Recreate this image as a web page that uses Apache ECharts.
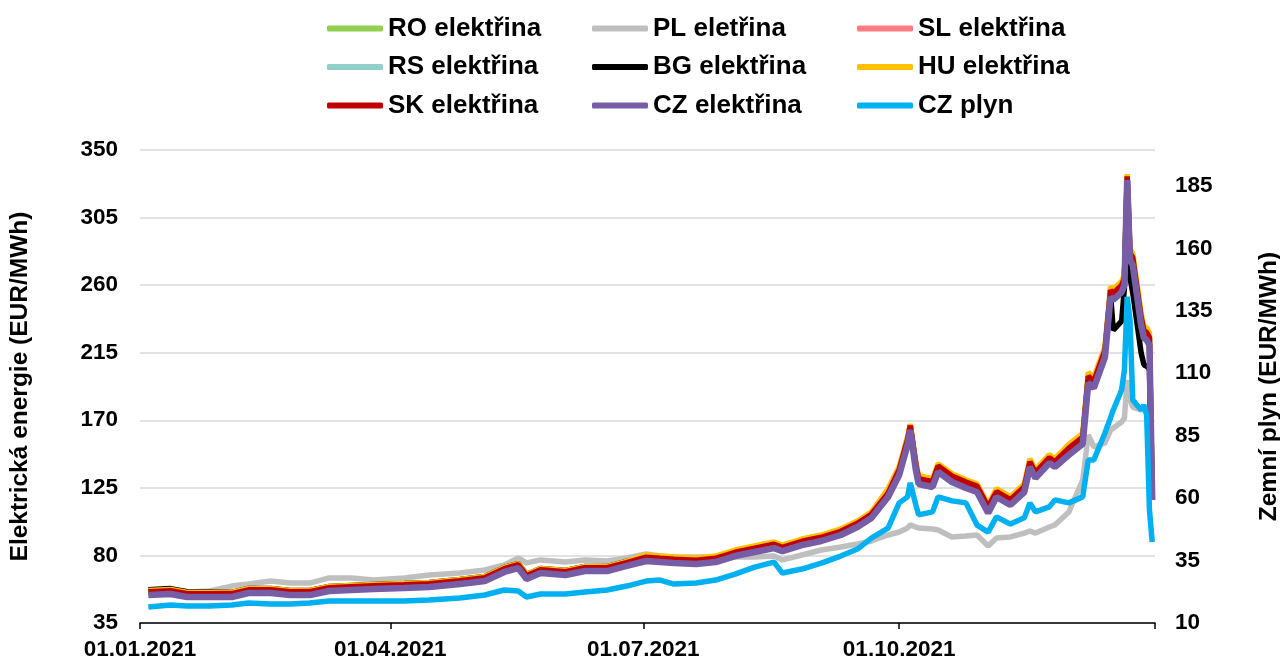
<!DOCTYPE html>
<html>
<head>
<meta charset="utf-8">
<script src="https://cdn.jsdelivr.net/npm/echarts@6/dist/echarts.min.js"></script>
<style>
  html, body { margin: 0; padding: 0; background: #fff; }
  #chart { width: 1280px; height: 662px; }
</style>
</head>
<body>
<div id="chart"></div>
<script>
// trading days sampled from the chart (2021)
const dates = [
  '2021-01-04', '2021-01-12', '2021-01-18', '2021-01-26', '2021-02-03', '2021-02-09', '2021-02-17', '2021-02-24',
  '2021-03-03', '2021-03-10', '2021-03-18', '2021-03-26', '2021-04-06', '2021-04-15', '2021-04-26', '2021-05-05',
  '2021-05-12', '2021-05-17', '2021-05-20', '2021-05-25', '2021-06-03', '2021-06-10', '2021-06-18', '2021-06-25',
  '2021-07-02', '2021-07-07', '2021-07-12', '2021-07-20', '2021-07-27', '2021-08-03', '2021-08-10', '2021-08-17',
  '2021-08-20', '2021-08-27', '2021-09-03', '2021-09-10', '2021-09-16', '2021-09-21', '2021-09-27', '2021-10-01',
  '2021-10-04', '2021-10-05', '2021-10-07', '2021-10-08', '2021-10-13', '2021-10-15', '2021-10-20', '2021-10-25',
  '2021-10-29', '2021-11-02', '2021-11-05', '2021-11-10', '2021-11-15', '2021-11-17', '2021-11-19', '2021-11-24',
  '2021-11-26', '2021-12-01', '2021-12-06', '2021-12-08', '2021-12-10', '2021-12-14', '2021-12-16', '2021-12-17',
  '2021-12-20', '2021-12-21', '2021-12-22', '2021-12-23', '2021-12-24', '2021-12-27', '2021-12-28', '2021-12-29',
  '2021-12-30', '2021-12-31'
];

const roElektrina = [
  55.0, 55.8, 53.7, 53.8, 53.7, 56.4, 56.5, 55.0, 55.1, 57.7, 58.5, 59.1, 59.8, 60.4, 62.5, 64.4,
  70.4, 73.1, 65.8, 69.7, 68.5, 71.1, 71.0, 74.4, 77.8, 77.1, 76.5, 75.8, 77.0, 81.1, 83.7, 86.3,
  84.4, 88.3, 91.1, 95.0, 100.4, 106.3, 120.4, 135.6, 155.5, 165.0, 138.9, 129.6, 127.6, 137.6, 130.9, 126.9,
  124.2, 110.3, 120.9, 115.6, 124.2, 140.9, 133.6, 143.6, 140.9, 149.9, 157.2, 197.8, 194.5, 215.1, 255.1, 253.1,
  258.4, 263.1, 331.5, 279.7, 276.4, 236.5, 227.8, 226.5, 223.1, 118.0
];
const plElektrina = [
  57.0, 57.0, 55.6, 56.3, 59.6, 61.0, 63.0, 61.6, 61.6, 65.0, 65.0, 63.6, 65.0, 67.0, 68.3, 70.3,
  73.6, 78.3, 75.0, 77.0, 75.6, 77.0, 76.3, 78.3, 81.0, 79.6, 79.0, 79.0, 79.0, 79.0, 79.0, 79.6,
  77.0, 80.3, 83.6, 85.6, 87.6, 89.6, 93.6, 95.6, 98.3, 100.3, 98.9, 98.3, 97.6, 96.9, 92.3, 92.9,
  93.6, 86.3, 91.6, 92.3, 94.9, 96.3, 94.9, 98.9, 100.3, 108.9, 130.2, 160.2, 152.2, 154.9, 163.5, 164.9,
  168.9, 171.5, 196.8, 183.5, 178.8, 176.9, 178.2, 176.9, 176.9, 176.9
];
const slElektrina = [
  55.5, 56.2, 54.2, 54.3, 54.2, 56.9, 57.0, 55.5, 55.6, 58.2, 59.0, 59.5, 60.2, 61.0, 63.0, 64.9,
  71.0, 73.5, 66.2, 70.2, 69.0, 71.5, 71.6, 75.0, 78.4, 77.7, 77.1, 76.4, 77.7, 81.7, 84.4, 87.0,
  85.0, 89.0, 91.7, 95.7, 101.0, 107.0, 121.0, 136.4, 156.3, 165.8, 139.7, 130.4, 128.4, 138.4, 131.7, 127.7,
  125.0, 111.1, 121.7, 116.4, 125.0, 141.7, 134.4, 144.4, 141.7, 150.6, 157.9, 198.5, 195.2, 215.8, 255.8, 253.8,
  259.1, 263.8, 332.0, 280.4, 277.1, 237.2, 228.5, 227.2, 223.8, 118.4
];
const rsElektrina = [
  56.0, 56.7, 54.7, 54.7, 54.7, 57.4, 57.4, 56.0, 56.0, 58.7, 59.4, 60.0, 60.7, 61.4, 63.4, 65.4,
  71.4, 74.0, 66.7, 70.7, 69.4, 72.0, 72.0, 75.4, 79.0, 78.3, 77.7, 77.0, 78.3, 82.3, 85.0, 87.6,
  85.6, 89.6, 92.3, 96.3, 101.6, 107.6, 122.0, 137.6, 157.5, 166.8, 140.9, 131.6, 129.6, 139.6, 132.9, 128.9,
  126.2, 112.3, 122.9, 117.6, 126.2, 142.9, 135.6, 145.6, 142.9, 152.4, 159.7, 200.3, 197.0, 217.6, 257.6, 255.6,
  260.9, 265.6, 332.8, 282.2, 278.9, 239.0, 230.3, 229.0, 225.6, 119.0
];
const bgElektrina = [
  57.2, 57.9, 55.8, 55.6, 55.4, 58.0, 58.0, 56.6, 56.6, 59.3, 60.0, 60.6, 61.3, 62.0, 64.0, 66.0,
  72.0, 74.6, 67.3, 71.3, 70.0, 72.6, 72.6, 76.0, 79.3, 78.6, 78.0, 77.3, 78.6, 82.6, 85.3, 87.9,
  85.9, 89.9, 92.6, 96.6, 101.9, 107.9, 122.4, 137.1, 157.0, 166.5, 140.4, 131.1, 129.1, 139.1, 132.4, 128.4,
  125.7, 111.8, 122.4, 117.1, 125.2, 141.9, 134.1, 143.6, 141.4, 150.4, 157.7, 198.3, 195.0, 215.1, 254.1, 230.0,
  236.0, 258.0, 328.0, 265.0, 255.0, 215.0, 207.0, 206.0, 204.0, 118.0
];
const huElektrina = [
  56.6, 57.3, 55.3, 55.3, 55.4, 58.0, 58.0, 56.6, 56.7, 59.3, 60.0, 60.6, 61.3, 62.0, 64.0, 66.0,
  72.0, 74.6, 67.3, 71.3, 70.0, 72.6, 72.6, 76.0, 80.3, 79.6, 79.0, 78.3, 79.6, 83.6, 86.3, 88.9,
  86.9, 90.9, 93.6, 97.6, 102.9, 108.9, 124.4, 139.1, 159.0, 167.5, 142.4, 133.1, 131.1, 141.1, 134.4, 130.4,
  127.7, 113.8, 124.4, 119.1, 127.7, 144.4, 137.1, 147.1, 144.4, 153.9, 161.2, 201.8, 198.5, 219.1, 259.1, 257.1,
  262.4, 267.1, 334.0, 283.7, 281.4, 241.5, 232.8, 231.5, 228.1, 120.0
];
const skElektrina = [
  55.8, 56.5, 54.5, 54.4, 54.6, 57.1, 57.2, 55.8, 55.9, 58.5, 59.2, 59.8, 60.5, 61.2, 63.2, 65.1,
  71.2, 73.8, 66.5, 70.5, 69.2, 71.8, 71.8, 75.2, 78.8, 78.1, 77.5, 76.8, 78.1, 82.1, 84.8, 87.4,
  85.4, 89.4, 92.1, 96.1, 101.4, 107.4, 121.4, 137.1, 157.0, 166.5, 140.4, 131.1, 129.1, 139.6, 132.9, 128.9,
  126.2, 112.3, 122.4, 117.1, 125.7, 142.4, 135.1, 145.1, 142.4, 151.4, 158.7, 199.3, 196.0, 216.6, 256.6, 254.6,
  259.9, 264.6, 332.5, 281.2, 278.4, 238.5, 229.8, 228.5, 225.1, 118.9
];
const czElektrina = [
  53.6, 54.3, 52.3, 52.3, 52.3, 55.0, 55.0, 53.6, 53.6, 56.3, 57.0, 57.6, 58.3, 59.0, 61.0, 63.0,
  69.0, 71.6, 64.3, 68.3, 67.0, 69.6, 69.6, 73.0, 76.3, 75.6, 75.0, 74.3, 75.6, 79.6, 82.3, 84.9,
  82.9, 86.9, 89.6, 93.6, 98.9, 104.9, 118.9, 133.6, 153.5, 163.5, 136.9, 127.6, 125.6, 135.6, 128.9, 124.9,
  122.2, 108.3, 118.9, 113.6, 122.2, 138.9, 131.6, 141.6, 138.9, 146.9, 154.2, 194.8, 191.5, 212.1, 252.1, 250.1,
  255.4, 260.1, 330.0, 276.7, 273.4, 233.5, 224.8, 223.5, 220.1, 116.9
];
// right axis
const czPlyn = [
  16.4, 17.2, 16.8, 16.8, 17.2, 18.0, 17.6, 17.6, 18.0, 18.8, 18.8, 18.8, 18.8, 19.2, 20.0, 21.2,
  23.2, 22.8, 20.4, 21.6, 21.6, 22.4, 23.2, 24.8, 26.8, 27.2, 25.6, 26.0, 27.2, 29.6, 32.4, 34.4,
  30.0, 31.6, 34.0, 36.8, 39.6, 44.0, 48.0, 58.1, 60.5, 66.1, 57.3, 53.3, 54.5, 60.5, 58.9, 58.1,
  49.2, 46.4, 52.5, 49.6, 52.1, 58.1, 54.5, 56.5, 59.3, 58.1, 60.5, 75.3, 75.3, 86.1, 92.1, 95.3,
  103.3, 111.3, 140.6, 131.3, 99.3, 95.3, 97.3, 93.3, 55.3, 42.4
];

const xTickDates = ['2021-01-01', '2021-04-01', '2021-07-01', '2021-10-01', '2022-01-01'];
const xLabelDates = ['2021-01-01', '2021-04-01', '2021-07-01', '2021-10-01'];

const seriesDefs = [
  { name: 'RO elektřina', data: roElektrina, color: '#92d050' },
  { name: 'PL eletřina', data: plElektrina, color: '#bfbfbf' },
  { name: 'SL elektřina', data: slElektrina, color: '#ff7c80' },
  { name: 'RS elektřina', data: rsElektrina, color: '#93cfca' },
  { name: 'BG elektřina', data: bgElektrina, color: '#000000' },
  { name: 'HU elektřina', data: huElektrina, color: '#ffc000' },
  { name: 'SK elektřina', data: skElektrina, color: '#c00000' },
  { name: 'CZ elektřina', data: czElektrina, color: '#775da6', width: 6.5 },
  { name: 'CZ plyn', data: czPlyn, color: '#00b0f0', axis: 1 }
];

const font = '"Liberation Sans", Arial, sans-serif';
// local-time timestamp of a 'YYYY-MM-DD' string
const toTime = s => {
  const p = s.split('-').map(Number);
  return new Date(p[0], p[1] - 1, p[2]).getTime();
};
const pad = n => (n < 10 ? '0' : '') + n;
const fmtDate = v => {
  const d = new Date(v);
  return pad(d.getDate()) + '.' + pad(d.getMonth() + 1) + '.' + d.getFullYear();
};

const chart = echarts.init(document.getElementById('chart'));

const legendColumn = (left, names) => ({
  orient: 'vertical',
  left: left,
  top: 8.5,
  itemWidth: 56,
  itemHeight: 6,
  itemGap: 8.5,
  icon: 'roundRect',
  selectedMode: false,
  data: names,
  textStyle: { fontFamily: font, fontSize: 26, fontWeight: 'bold', color: '#000', lineHeight: 30 }
});

const axisText = { fontSize: 22.5, fontWeight: 'bold', color: '#000', fontFamily: font };
const nameText = { fontFamily: font, fontSize: 24.5, fontWeight: 'bold', color: '#000' };

const option = {
  animation: false,
  textStyle: { fontFamily: font },
  legend: [
    legendColumn(322, ['RO elektřina', 'RS elektřina', 'SK elektřina']),
    legendColumn(587, ['PL eletřina', 'BG elektřina', 'CZ elektřina']),
    legendColumn(852, ['SL elektřina', 'HU elektřina', 'CZ plyn'])
  ],
  grid: { left: 140, right: 125, top: 150, bottom: 39, outerBoundsMode: 'none' },
  xAxis: {
    type: 'value',
    min: toTime('2021-01-01'),
    max: toTime('2022-01-01'),
    axisLine: { lineStyle: { color: '#000', width: 1.5 } },
    axisTick: {
      show: true,
      length: 6,
      lineStyle: { color: '#000', width: 1.5 },
      customValues: xTickDates.map(toTime)
    },
    axisLabel: Object.assign({
      customValues: xLabelDates.map(toTime),
      margin: 15,
      formatter: fmtDate
    }, axisText),
    splitLine: { show: false }
  },
  yAxis: [
    {
      type: 'value',
      min: 35,
      max: 350,
      interval: 45,
      name: 'Elektrická energie (EUR/MWh)',
      nameLocation: 'middle',
      nameGap: 107,
      nameRotate: 90,
      nameTextStyle: nameText,
      axisLine: { show: false },
      axisTick: { show: false },
      axisLabel: Object.assign({ margin: 22 }, axisText),
      splitLine: { lineStyle: { color: '#d9d9d9', width: 1.5 } }
    },
    {
      type: 'value',
      min: 10,
      max: 199.4,
      interval: 25,
      name: 'Zemní plyn (EUR/MWh)',
      nameLocation: 'middle',
      nameGap: 102,
      nameRotate: 90,
      nameTextStyle: nameText,
      axisLine: { show: false },
      axisTick: { show: false },
      axisLabel: Object.assign({ margin: 20, showMaxLabel: false }, axisText),
      splitLine: { show: false }
    }
  ],
  series: seriesDefs.map(s => ({
    name: s.name,
    type: 'line',
    yAxisIndex: s.axis || 0,
    data: dates.map((d, i) => [toTime(d), s.data[i]]),
    showSymbol: false,
    symbol: 'none',
    color: s.color,
    lineStyle: { color: s.color, width: s.width || 5.5 },
    emphasis: { disabled: true }
  }))
};

chart.setOption(option);
</script>
</body>
</html>
